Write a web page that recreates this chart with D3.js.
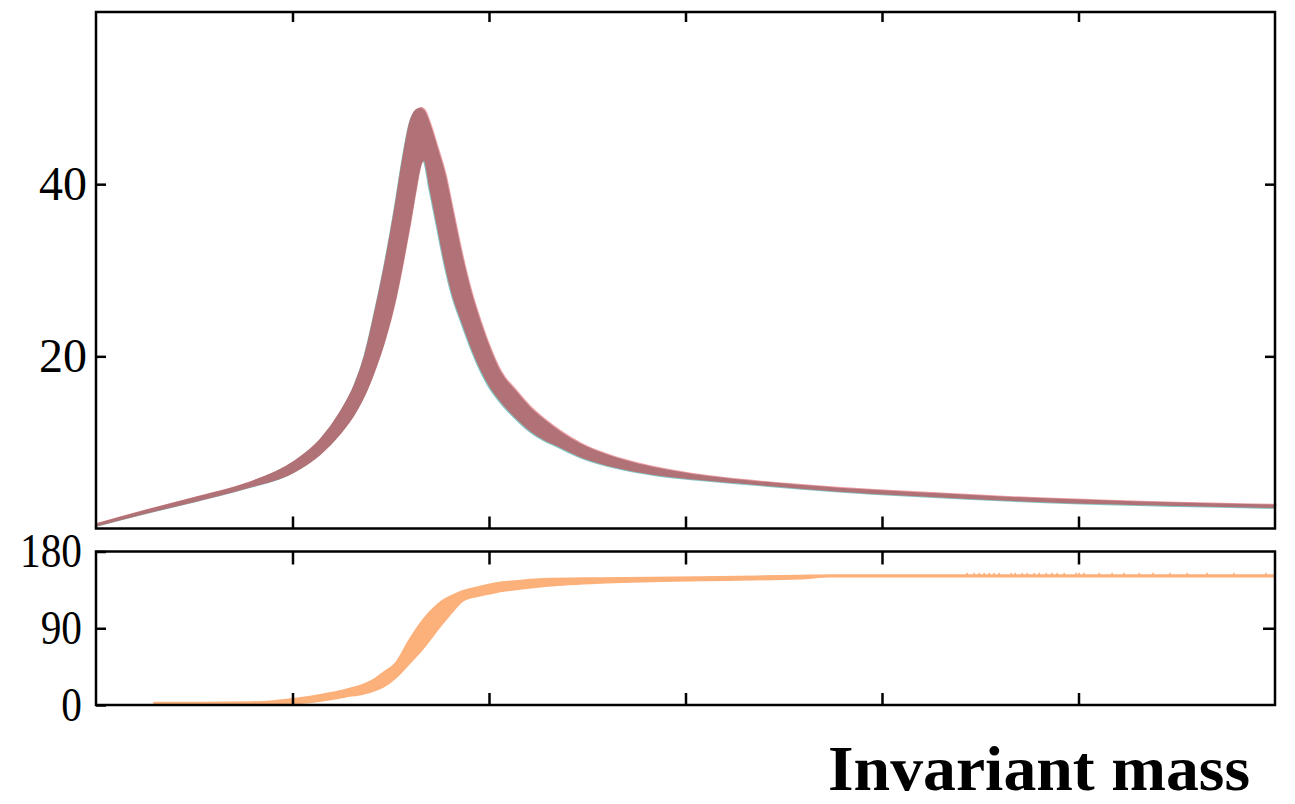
<!DOCTYPE html>
<html>
<head>
<meta charset="utf-8">
<script src="https://cdn.jsdelivr.net/npm/d3@7"></script>
<style>
  html, body { margin: 0; padding: 0; background: #fff; }
  svg { display: block; }
</style>
</head>
<body>
<svg id="chart" width="1295" height="804"></svg>
<script>
// ---- Data ----
// Invariant-mass axis positions (arbitrary units, 0..6)
const massX = [0, 0.254, 0.509, 0.763, 1.003, 1.140, 1.242, 1.318, 1.369, 1.420, 1.471, 1.522,
  1.562, 1.598, 1.628, 1.649, 1.669, 1.700, 1.735, 1.776, 1.817, 1.863, 1.903, 1.954, 2.005,
  2.056, 2.132, 2.209, 2.285, 2.361, 2.463, 2.565, 2.733, 2.870, 3.023, 3.277, 3.583, 3.954,
  4.295, 4.636, 4.982, 5.313, 5.669, 6.0];
// upper and lower edges of the cross-section band
const xsecUpper = [0.5, 2.1, 3.6, 5.2, 7.7, 10.3, 13.5, 16.8, 20.2, 25.2, 30.8, 37.3,
  43, 47.2, 48.6, 48.8, 48.5, 46.8, 44.2, 41, 36.5, 31.5, 27.8, 24, 20.8,
  18.2, 16, 14, 12.5, 11.2, 9.8, 8.8, 7.6, 6.9, 6.3, 5.6, 5.0, 4.4,
  4.0, 3.6, 3.3, 3.05, 2.85, 2.7];
const xsecLower = [0.3, 1.8, 3.2, 4.7, 6.5, 8.6, 11, 13.4, 15.6, 18.5, 22, 26.5,
  31, 35.5, 39.5, 42, 42.8, 39.5, 35.5, 30.8, 27, 24, 21.5, 18.7, 16.5,
  14.9, 13, 11.4, 10.3, 9.5, 8.4, 7.6, 6.7, 6.2, 5.8, 5.3, 4.7, 4.1,
  3.7, 3.3, 3.0, 2.8, 2.6, 2.45];

// Phase (degrees) band
const phaseX = [0.295, 0.529, 0.784, 0.885, 0.987, 1.089, 1.186, 1.267, 1.359, 1.420, 1.461,
  1.527, 1.593, 1.664, 1.715, 1.766, 1.817, 1.868, 1.954, 2.036, 2.158, 2.275, 2.565,
  3.074, 3.583, 3.735, 6.0];
const phaseLower = [0.5, 0.5, 0.8, 1, 1.5, 3, 6, 9.5, 13, 17, 21,
  32, 48, 66, 81, 96, 110, 122, 128, 132, 136, 139, 143,
  146, 148, 150.5, 150.5];
const phaseUpper = [3, 3, 3.5, 4.5, 7, 10, 14, 18, 24, 31, 38,
  50, 76, 100, 113, 123, 129, 134, 139, 143, 146, 148, 149,
  150, 152, 152.5, 152.5];
// small spikes on the phase plateau
const phaseSpikeX = [4.434, 4.469, 4.495, 4.520, 4.546, 4.571, 4.597, 4.658, 4.678, 4.714,
  4.739, 4.775, 4.800, 4.836, 4.866, 4.892, 4.927, 4.988, 5.003, 5.029, 5.105, 5.171,
  5.232, 5.309, 5.380, 5.466, 5.553, 5.654, 5.791, 5.954];
const phaseSpikeTop = 155;

const xTicks = [1, 2, 3, 4, 5];
const topYTicks = [20, 40];
const botYTicks = [0, 90, 180];
const xLabel = "Invariant mass";

// ---- Layout ----
const svg = d3.select("#chart");
const left = 96, right = 1275;
const top1 = 12, bot1 = 528.5;
const top2 = 551.5, bot2 = 705;

const x = d3.scaleLinear().domain([0, 6]).range([left, right]);
const yT = d3.scaleLinear().domain([0, 60]).range([bot1, top1]);
const yB = d3.scaleLinear().domain([0, 180]).range([bot2, top2]);

const FONT = "'Liberation Serif', 'Times New Roman', serif";

// ---- Top panel band ----
const xsec = massX.map((m, i) => ({ m, lo: xsecLower[i], hi: xsecUpper[i] }));
const areaT = d3.area().x(d => x(d.m)).y0(d => yT(d.lo)).y1(d => yT(d.hi)).curve(d3.curveMonotoneX);
const gT = svg.append("g");
gT.append("path").datum(xsec).attr("d", areaT).attr("fill", "#86c4c3")
  .attr("transform", "translate(-1.5,1.5)");
gT.append("path").datum(xsec).attr("d", areaT).attr("fill", "#eb9ca2")
  .attr("transform", "translate(1.5,-1.5)");
gT.append("path").datum(xsec).attr("d", areaT).attr("fill", "#b07276")
  .attr("stroke", "#b07276").attr("stroke-width", 1.5);

// ---- Bottom panel band ----
const phase = phaseX.map((m, i) => ({ m, lo: phaseLower[i], hi: phaseUpper[i] }));
const areaB = d3.area().x(d => x(d.m)).y0(d => yB(d.lo)).y1(d => yB(d.hi)).curve(d3.curveMonotoneX);
svg.append("path").datum(phase).attr("d", areaB).attr("fill", "#fcb07a")
  .attr("stroke", "#fcb07a").attr("stroke-width", 1.5);
svg.append("g").selectAll("line").data(phaseSpikeX).join("line")
  .attr("x1", d => x(d)).attr("x2", d => x(d))
  .attr("y1", yB(150.5)).attr("y2", yB(phaseSpikeTop))
  .attr("stroke", "#fcb07a").attr("stroke-width", 1.6);

// ---- Axes ----
function styleAxis(g, labels, squeeze) {
  g.select(".domain").remove();
  g.selectAll(".tick line").attr("stroke", "#000").attr("stroke-width", 2.5);
  if (!labels) { g.selectAll(".tick text").remove(); return; }
  g.selectAll(".tick text").attr("font-family", FONT).attr("font-size", 48).attr("fill", "#000")
    .each(function () {
      const t = d3.select(this);
      const n = t.text().length;
      t.attr("textLength", n * 24 * squeeze).attr("lengthAdjust", "spacingAndGlyphs");
    });
}
// top panel
svg.append("g").attr("transform", `translate(0,${bot1})`)
  .call(d3.axisBottom(x).tickValues(xTicks).tickSize(-12)).call(g => styleAxis(g, false));
svg.append("g").attr("transform", `translate(0,${top1})`)
  .call(d3.axisTop(x).tickValues(xTicks).tickSize(-10)).call(g => styleAxis(g, false));
svg.append("g").attr("transform", `translate(${left},0)`)
  .call(d3.axisLeft(yT).tickValues(topYTicks).tickSize(-10).tickPadding(9)).call(g => styleAxis(g, true, 1));
svg.append("g").attr("transform", `translate(${right},0)`)
  .call(d3.axisRight(yT).tickValues(topYTicks).tickSize(-10)).call(g => styleAxis(g, false));
// bottom panel
svg.append("g").attr("transform", `translate(0,${bot2})`)
  .call(d3.axisBottom(x).tickValues(xTicks).tickSize(-12)).call(g => styleAxis(g, false));
svg.append("g").attr("transform", `translate(0,${top2})`)
  .call(d3.axisTop(x).tickValues(xTicks).tickSize(-13)).call(g => styleAxis(g, false));
svg.append("g").attr("transform", `translate(${left},0)`)
  .call(d3.axisLeft(yB).tickValues(botYTicks).tickSize(-10).tickPadding(14)).call(g => styleAxis(g, true, 0.86));
svg.append("g").attr("transform", `translate(${right},0)`)
  .call(d3.axisRight(yB).tickValues([90]).tickSize(-12)).call(g => styleAxis(g, false));

// frames
[[top1, bot1], [top2, bot2]].forEach(([t, b]) => {
  svg.append("rect").attr("x", left).attr("y", t).attr("width", right - left).attr("height", b - t)
    .attr("fill", "none").attr("stroke", "#000").attr("stroke-width", 2.5);
});

// x label
svg.append("text").attr("x", 828).attr("y", 790)
  .attr("font-family", FONT).attr("font-weight", "bold").attr("font-size", 64)
  .attr("textLength", 422).attr("lengthAdjust", "spacingAndGlyphs")
  .attr("fill", "#000").text(xLabel);
</script>
</body>
</html>
